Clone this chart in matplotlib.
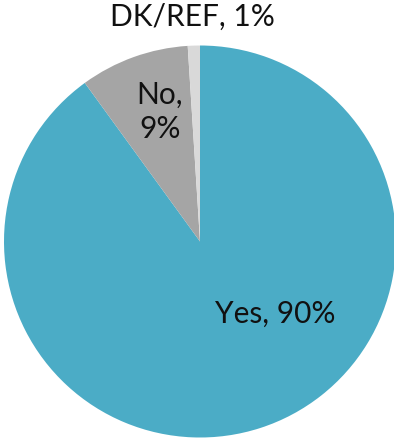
import matplotlib
matplotlib.use("Agg")
import matplotlib.pyplot as plt

categories = ["Yes", "No", "DK/REF"]
values = [90, 9, 1]
colors = ["#4BACC6", "#A5A5A5", "#D9D9D9"]

W, H = 394, 438
fig = plt.figure(figsize=(W / 100, H / 100), dpi=100)
cx, cy, r = 200, 241.5, 196
ax = fig.add_axes([(cx - r) / W, (H - cy - r) / H, 2 * r / W, 2 * r / H])
ax.pie(values, colors=colors, startangle=90, counterclock=False, radius=1,
       wedgeprops=dict(linewidth=0))
ax.set_xlim(-1, 1)
ax.set_ylim(-1, 1)
ax.set_aspect("equal")
ax.axis("off")

def px2data(px, py):
    return (px - cx) / r, (cy - py) / r

labels = [f"{categories[0]}, {values[0]}%",
          f"{categories[1]},\n{values[1]}%",
          f"{categories[2]}, {values[2]}%"]
positions = [(275, 314), (160, 112), (192, 17)]
for lab, (px, py) in zip(labels, positions):
    x, y = px2data(px, py)
    ax.text(x, y, lab, ha="center", va="center", fontsize=21.5,
            family="Lato", color="#111111",
            linespacing=1.25, clip_on=False)

fig.savefig("out.png", dpi=100)
